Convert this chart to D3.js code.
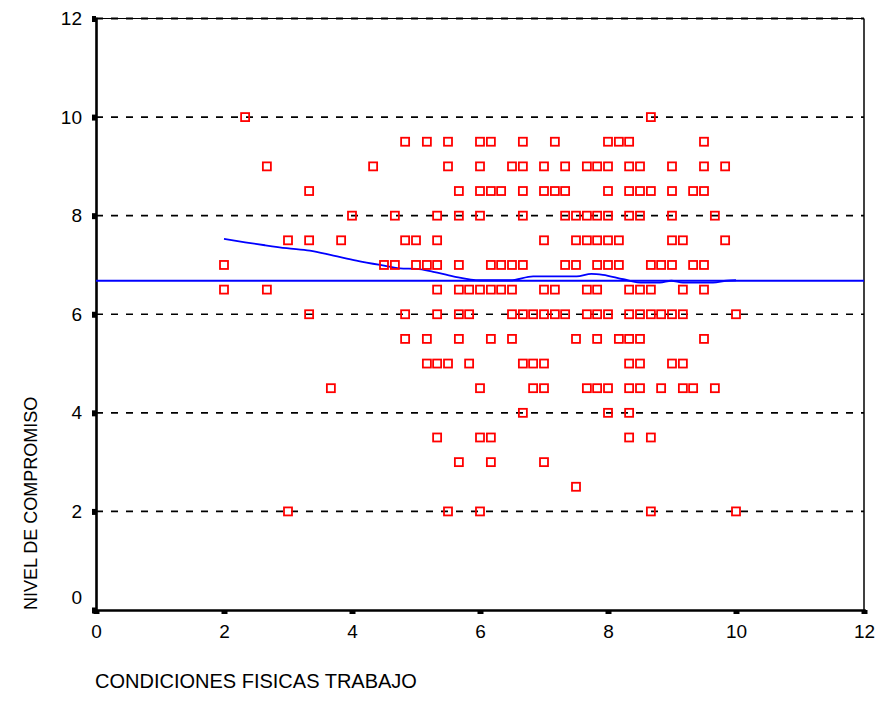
<!DOCTYPE html>
<html>
<head>
<meta charset="utf-8">
<script src="https://cdn.jsdelivr.net/npm/d3@7"></script>
<style>
  html, body { margin: 0; padding: 0; background: #fff; }
  svg { display: block; font-family: "Liberation Sans", Arial, sans-serif; }
</style>
</head>
<body>
<svg id="chart" width="879" height="715"></svg>
<script>
// Nivel de compromiso (eje Y) y, para cada nivel, los valores de condiciones físicas (eje X)
const niveles = [10, 9.5, 9, 8.5, 8, 7.5, 7, 6.5, 6, 5.5, 5, 4.5, 4, 3.5, 3, 2.5, 2];
const condicionesPorNivel = [
  [2.33, 8.67],
  [4.83, 5.17, 5.5, 6.0, 6.17, 6.67, 7.17, 8.0, 8.17, 8.33, 9.5],
  [2.67, 4.33, 5.5, 6.0, 6.5, 6.67, 7.0, 7.33, 7.67, 7.83, 8.0, 8.33, 8.5, 9.0, 9.5, 9.83],
  [3.33, 5.67, 6.0, 6.17, 6.33, 6.67, 7.0, 7.17, 7.33, 8.0, 8.33, 8.5, 8.67, 9.0, 9.33, 9.5],
  [4.0, 4.67, 5.33, 5.67, 6.0, 6.67, 7.33, 7.5, 7.67, 7.83, 8.0, 8.33, 8.5, 9.0, 9.67],
  [3.0, 3.33, 3.83, 4.83, 5.0, 5.33, 7.0, 7.5, 7.67, 7.83, 8.0, 8.17, 9.0, 9.17, 9.83],
  [2.0, 4.5, 4.67, 5.0, 5.17, 5.33, 5.67, 6.17, 6.33, 6.5, 6.67, 7.33, 7.5, 7.83, 8.0, 8.17, 8.67, 8.83, 9.0, 9.33, 9.5],
  [2.0, 2.67, 5.33, 5.67, 5.83, 6.0, 6.17, 6.33, 6.5, 7.0, 7.17, 7.67, 7.83, 8.33, 8.5, 8.67, 9.17, 9.5],
  [3.33, 4.83, 5.33, 5.67, 5.83, 6.5, 6.67, 6.83, 7.0, 7.17, 7.33, 7.67, 7.83, 8.0, 8.33, 8.5, 8.67, 8.83, 9.0, 9.17, 10.0],
  [4.83, 5.17, 5.67, 6.17, 6.5, 7.5, 7.83, 8.17, 8.33, 8.5, 9.5],
  [5.17, 5.33, 5.5, 5.83, 6.67, 6.83, 7.0, 8.33, 8.5, 9.0, 9.17],
  [3.67, 6.0, 6.83, 7.0, 7.67, 7.83, 8.0, 8.33, 8.5, 8.83, 9.17, 9.33, 9.67],
  [6.67, 8.0, 8.33],
  [5.33, 6.0, 6.17, 8.33, 8.67],
  [5.67, 6.17, 7.0],
  [7.5],
  [3.0, 5.5, 6.0, 8.67, 10.0]
];

// Curva de ajuste suavizada y media total del compromiso
const ajusteX = [2.0, 2.33, 2.64, 2.98, 3.34, 3.71, 4.07, 4.44, 4.75, 5.01, 5.27, 5.58, 6.0, 6.47, 6.83, 7.51, 7.74, 7.92, 8.24, 8.55, 8.81, 8.99, 9.17, 9.64, 9.85, 10.0];
const ajusteY = [7.53, 7.46, 7.40, 7.34, 7.29, 7.19, 7.09, 7.00, 6.93, 6.92, 6.86, 6.77, 6.69, 6.69, 6.77, 6.77, 6.82, 6.80, 6.71, 6.64, 6.64, 6.68, 6.64, 6.64, 6.68, 6.69];
const mediaCompromiso = 6.68;

const ticksX = [0, 2, 4, 6, 8, 10, 12];
const ticksY = [0, 2, 4, 6, 8, 10, 12];
const tituloX = "CONDICIONES FISICAS TRABAJO";
const tituloY = "NIVEL DE COMPROMISO";

const puntos = [];
niveles.forEach((n, i) => condicionesPorNivel[i].forEach(c => puntos.push({ x: c, y: n })));

const svg = d3.select("#chart");
const plotLeft = 96, plotRight = 864, plotTop = 18.5, plotBottom = 610;

const x = d3.scaleLinear().domain([0, 12]).range([plotLeft, plotRight]);
const y = d3.scaleLinear().domain([0, 12]).range([plotBottom, plotTop]);

// Líneas de referencia discontinuas
svg.append("g")
  .selectAll("line")
  .data(ticksY.filter(t => t > 0))
  .join("line")
  .attr("x1", plotLeft).attr("x2", plotRight)
  .attr("y1", d => y(d)).attr("y2", d => y(d))
  .attr("stroke", "#000")
  .attr("stroke-width", d => d === 12 ? 2 : 1.6)
  .attr("stroke-dasharray", "7,8");

// Marco derecho y superior
svg.append("line")
  .attr("x1", plotRight).attr("x2", plotRight).attr("y1", plotTop).attr("y2", plotBottom)
  .attr("stroke", "#000").attr("stroke-width", 1.5);
svg.append("line")
  .attr("x1", plotLeft).attr("x2", plotRight).attr("y1", plotTop).attr("y2", plotTop)
  .attr("stroke", "#000").attr("stroke-width", 1);

// Ejes
const axisX = d3.axisBottom(x).tickValues(ticksX).tickSize(4).tickPadding(11).tickFormat(d3.format("d"));
const axisY = d3.axisLeft(y).tickValues(ticksY).tickSize(4).tickPadding(10).tickFormat(d3.format("d"));

const gx = svg.append("g").attr("transform", `translate(0,${plotBottom})`).call(axisX);
const gy = svg.append("g").attr("transform", `translate(${plotLeft},0)`).call(axisY);

[gx, gy].forEach(g => {
  g.select(".domain").attr("stroke", "#000").attr("stroke-width", 2.6);
  g.selectAll(".tick line").attr("stroke", "#000").attr("stroke-width", 6);
  g.selectAll(".tick text")
    .attr("fill", "#000")
    .style("font-family", "'Liberation Sans', Arial, sans-serif")
    .style("font-size", "19px");
});
// El 0 del eje vertical se desplaza hacia arriba para no tapar el eje horizontal
gy.selectAll(".tick text").filter(d => d === 0).attr("dy", "-0.35em");

// Media y curva de ajuste
svg.append("line")
  .attr("x1", plotLeft).attr("x2", plotRight)
  .attr("y1", y(mediaCompromiso)).attr("y2", y(mediaCompromiso))
  .attr("stroke", "#0000ff").attr("stroke-width", 1.8);

svg.append("path")
  .datum(ajusteX.map((v, i) => [v, ajusteY[i]]))
  .attr("fill", "none")
  .attr("stroke", "#0000ff")
  .attr("stroke-width", 1.8)
  .attr("d", d3.line().x(d => x(d[0])).y(d => y(d[1])).curve(d3.curveMonotoneX));

// Casos
const lado = 8;
svg.append("g")
  .selectAll("rect")
  .data(puntos)
  .join("rect")
  .attr("x", d => x(d.x) - lado / 2)
  .attr("y", d => y(d.y) - lado / 2)
  .attr("width", lado).attr("height", lado)
  .attr("fill", "none")
  .attr("stroke", "#ff0000")
  .attr("stroke-width", 1.8);

// Títulos de los ejes
svg.append("text")
  .attr("x", 95).attr("y", 688)
  .attr("fill", "#000")
  .style("font-size", "20px")
  .text(tituloX);

svg.append("text")
  .attr("transform", `translate(37,${plotBottom}) rotate(-90)`)
  .attr("fill", "#000")
  .style("font-size", "18px")
  .text(tituloY);
</script>
</body>
</html>
